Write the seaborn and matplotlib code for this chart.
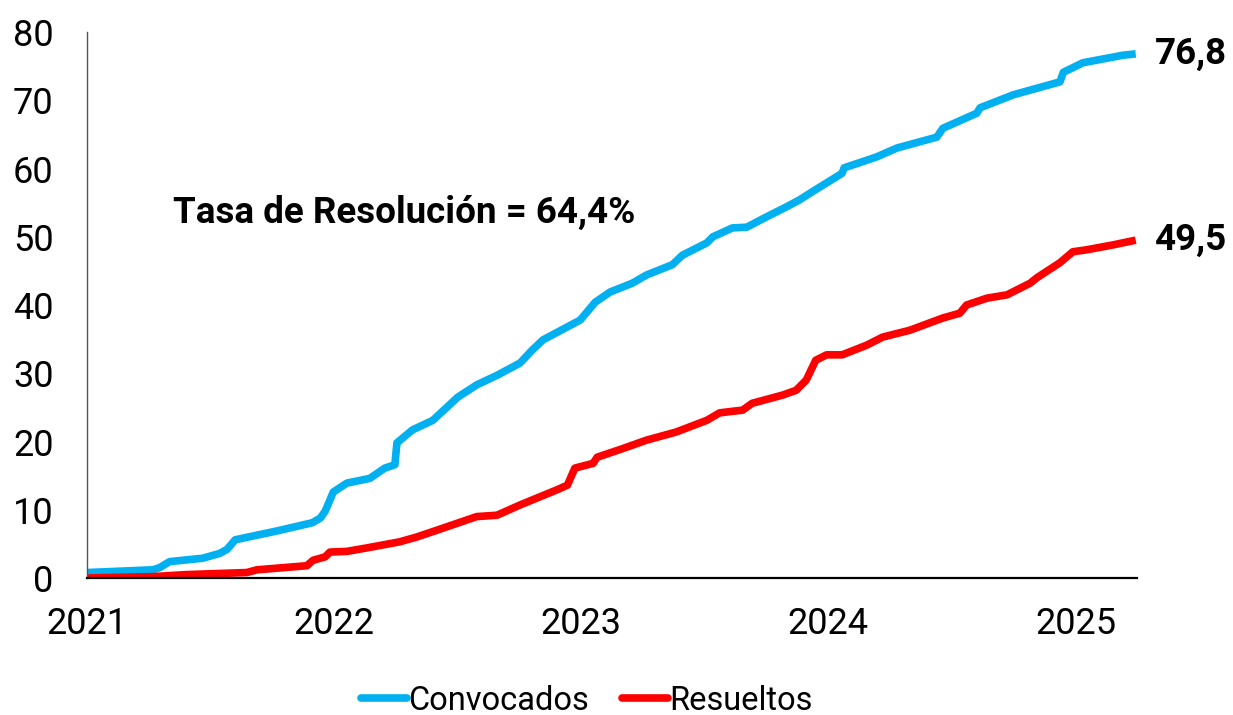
import pandas as pd
import matplotlib
matplotlib.use("Agg")
import matplotlib.pyplot as plt
import matplotlib.dates as mdates
import seaborn as sns

sns.set_style("white")
plt.rcParams['font.family'] = ['Roboto', 'DejaVu Sans']
plt.rcParams['text.color'] = 'black'
plt.rcParams['xtick.color'] = 'black'
plt.rcParams['ytick.color'] = 'black'

# cumulative counts
fechas_conv = ["2021-01-01", "2021-04-08", "2021-04-18", "2021-05-03", "2021-06-21", "2021-07-16",
               "2021-07-27", "2021-08-08", "2021-10-09", "2021-11-30", "2021-12-12", "2021-12-19",
               "2021-12-31", "2022-01-20", "2022-02-23", "2022-03-17", "2022-04-01", "2022-04-04",
               "2022-04-27", "2022-05-27", "2022-07-03", "2022-07-31", "2022-08-30", "2022-10-03",
               "2022-10-21", "2022-11-06", "2022-12-31", "2023-01-22", "2023-02-13", "2023-03-18",
               "2023-04-08", "2023-05-16", "2023-05-31", "2023-07-06", "2023-07-15", "2023-08-13",
               "2023-09-03", "2023-10-02", "2023-11-01", "2023-11-20", "2023-12-09", "2024-01-22",
               "2024-01-25", "2024-03-13", "2024-04-12", "2024-06-10", "2024-06-19", "2024-08-08",
               "2024-08-13", "2024-10-01", "2024-12-09", "2024-12-14", "2025-01-12", "2025-03-12",
               "2025-03-31"]
convocados = [0.8, 1.2, 1.5, 2.4, 2.9, 3.6,
              4.2, 5.6, 6.9, 8.1, 8.8, 9.8,
              12.6, 13.9, 14.6, 16.1, 16.6, 19.8,
              21.7, 23.1, 26.5, 28.3, 29.7, 31.5,
              33.4, 34.9, 37.8, 40.4, 41.9, 43.2,
              44.4, 45.9, 47.3, 49.1, 50.0, 51.3,
              51.4, 52.9, 54.4, 55.4, 56.6, 59.3,
              60.1, 61.7, 63.0, 64.6, 65.9, 68.1,
              68.9, 70.8, 72.7, 74.1, 75.5, 76.6,
              76.8]

fechas_res = ["2021-01-01", "2021-04-08", "2021-05-28", "2021-08-25", "2021-09-09", "2021-11-22",
              "2021-12-01", "2021-12-19", "2021-12-26", "2022-01-20", "2022-02-18", "2022-04-08",
              "2022-05-03", "2022-06-02", "2022-07-31", "2022-08-30", "2022-10-03", "2022-11-26",
              "2022-12-12", "2022-12-23", "2023-01-19", "2023-01-25", "2023-02-27", "2023-04-08",
              "2023-05-22", "2023-07-06", "2023-07-25", "2023-08-28", "2023-09-11", "2023-10-26",
              "2023-11-15", "2023-11-30", "2023-12-14", "2023-12-30", "2024-01-22", "2024-02-27",
              "2024-03-22", "2024-05-01", "2024-06-19", "2024-07-14", "2024-07-24", "2024-08-23",
              "2024-09-22", "2024-10-26", "2024-11-05", "2024-12-09", "2024-12-28", "2025-01-18",
              "2025-02-25", "2025-03-31"]
resueltos = [0.0, 0.2, 0.5, 0.8, 1.2, 1.8,
             2.6, 3.1, 3.8, 3.9, 4.4, 5.3,
             6.0, 7.0, 9.0, 9.2, 10.7, 12.9,
             13.6, 16.1, 16.8, 17.7, 18.8, 20.2,
             21.4, 23.1, 24.2, 24.6, 25.6, 26.8,
             27.5, 29.0, 31.9, 32.7, 32.7, 34.1,
             35.3, 36.3, 38.1, 38.8, 40.0, 41.0,
             41.5, 43.2, 44.0, 46.2, 47.8, 48.1,
             48.8, 49.5]

tasa = "Tasa de Resolución = 64,4%"
colors = {"Convocados": "#00B0F0", "Resueltos": "#FF0000"}

df_c = pd.DataFrame({"fecha": pd.to_datetime(fechas_conv), "valor": convocados})
df_r = pd.DataFrame({"fecha": pd.to_datetime(fechas_res), "valor": resueltos})

fig = plt.figure(figsize=(12.33, 7.15), dpi=100)
ax = fig.add_axes([0.0706, 0.1916, 0.8516, 0.7636])

for name, d in [("Convocados", df_c), ("Resueltos", df_r)]:
    sns.lineplot(data=d, x="fecha", y="valor", ax=ax, color=colors[name], lw=5.5,
                 label=name, solid_joinstyle='round', solid_capstyle='butt')
    last = d.iloc[-1]
    ax.annotate(f"{last.valor:.1f}".replace(".", ","), xy=(last.fecha, last.valor),
                xytext=(14, 0), textcoords='offset points', va='center', ha='left',
                fontsize=26.5, fontweight='bold', annotation_clip=False)

ax.text(0.082, 0.668, tasa, transform=ax.transAxes, fontsize=26.5, fontweight='bold',
        ha='left', va='center')

ax.set_ylim(0, 80)
ax.set_yticks(range(0, 81, 10))
ax.set_xlim(pd.Timestamp("2021-01-01"), pd.Timestamp("2025-04-02"))
ax.xaxis.set_major_locator(mdates.YearLocator())
ax.xaxis.set_major_formatter(mdates.DateFormatter('%Y'))
ax.tick_params(axis='y', length=0, pad=24, labelsize=26)
ax.tick_params(axis='x', length=0, pad=20, labelsize=26)
ax.set_xlabel('')
ax.set_ylabel('')
sns.despine(ax=ax)
ax.spines['left'].set_color('#555555')
ax.spines['left'].set_linewidth(1)
ax.spines['bottom'].set_color('black')
ax.spines['bottom'].set_linewidth(1.6)

ax.get_legend().remove()
handles, labels = ax.get_legend_handles_labels()
leg = fig.legend(handles, labels, loc='center', bbox_to_anchor=(0.476, 0.02), ncol=2,
                 frameon=False, fontsize=23.5, handlelength=1.4, handletextpad=0.05,
                 columnspacing=1.0)
for h in leg.get_lines():
    h.set_solid_capstyle('round')

fig.savefig('out.png', dpi=100)
